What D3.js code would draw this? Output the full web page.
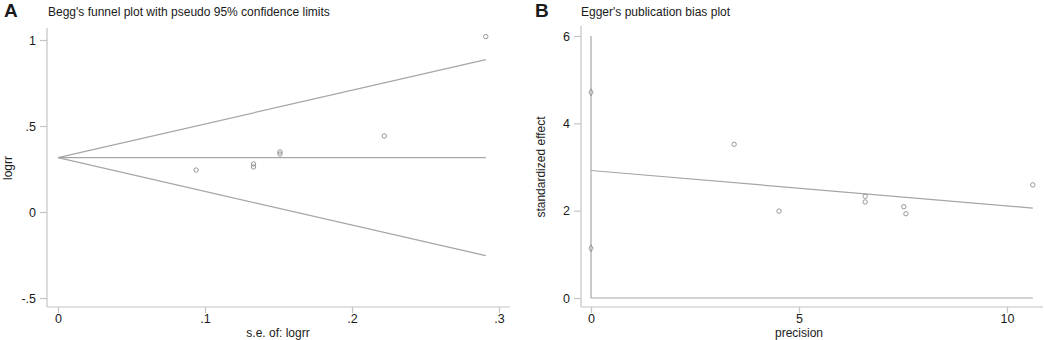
<!DOCTYPE html>
<html>
<head>
<meta charset="utf-8">
<script src="https://cdn.jsdelivr.net/npm/d3@7"></script>
<style>
  body { margin: 0; background: #fff; }
  svg { display: block; font-family: Arial, "Liberation Sans", sans-serif; }
</style>
</head>
<body>
<div id="vis"></div>
<script>
// Panel A: Begg's funnel
const funnelSe = [0.094, 0.133, 0.133, 0.151, 0.151, 0.222, 0.291];
const funnelLogrr = [0.244, 0.279, 0.262, 0.349, 0.337, 0.442, 1.02];
const funnelPooled = 0.316;
const funnelSeMax = 0.291;
const funnelUpper = 0.886;
const funnelLower = -0.254;
const funnelXTicks = [0, 0.1, 0.2, 0.3];
const funnelYTicks = [-0.5, 0, 0.5, 1];

// Panel B: Egger's plot
const eggerPrecision = [3.44, 4.52, 6.59, 6.59, 7.52, 7.57, 10.62];
const eggerEffect = [3.52, 1.99, 2.33, 2.20, 2.09, 1.93, 2.59];
const eggerFit = [[0, 2.92], [10.62, 2.06]];
const eggerCi = [4.71, 1.14];
const eggerXTicks = [0, 5, 10];
const eggerYTicks = [0, 2, 4, 6];

const WIDTH = 1045, HEIGHT = 340;
const AXIS = "#c4c4c4", LINE = "#a6a6a6", DOT = "#8c8c8c", TEXT = "#1a1a1a";

const svg = d3.select("#vis").append("svg")
    .attr("width", WIDTH).attr("height", HEIGHT);

const fmt = d => d === 0 ? "0" : String(d).replace(/^(-?)0\./, "$1.");

function axes(g, x, y, xt, yt, box) {
    // axis lines (stata style, a little off the plot region)
    g.append("line").attr("x1", box.left).attr("x2", box.left)
        .attr("y1", box.top).attr("y2", box.bottom)
        .attr("stroke", AXIS).attr("stroke-width", 1.2);
    g.append("line").attr("x1", box.left).attr("x2", box.right)
        .attr("y1", box.bottom).attr("y2", box.bottom)
        .attr("stroke", AXIS).attr("stroke-width", 1.2);

    const ya = g.append("g").attr("transform", `translate(${box.left},0)`)
        .call(d3.axisLeft(y).tickValues(yt).tickSize(7).tickPadding(4).tickFormat(fmt));
    const xa = g.append("g").attr("transform", `translate(0,${box.bottom})`)
        .call(d3.axisBottom(x).tickValues(xt).tickSize(6).tickPadding(1).tickFormat(fmt));
    [ya, xa].forEach(a => {
        a.select(".domain").remove();
        a.selectAll(".tick line").attr("stroke", AXIS).attr("stroke-width", 1.2);
        a.selectAll(".tick text").attr("fill", TEXT).attr("font-size", 12.5);
    });
}

// ---------- A ----------
const xA = d3.scaleLinear().domain([0, 0.3]).range([58, 499]);
const yA = d3.scaleLinear().domain([-0.5, 1]).range([298, 40]);
const gA = svg.append("g");

axes(gA, xA, yA, funnelXTicks, funnelYTicks, {left: 47, right: 510, top: 28, bottom: 307});

gA.append("text").text("A").attr("x", 4).attr("y", 17)
    .attr("font-size", 19).attr("font-weight", "bold").attr("fill", TEXT);
gA.append("text").text("Begg's funnel plot with pseudo 95% confidence limits")
    .attr("x", 48).attr("y", 16).attr("font-size", 12).attr("fill", TEXT);
gA.append("text").text("logrr")
    .attr("transform", "rotate(-90)").attr("x", -168).attr("y", 12)
    .attr("text-anchor", "middle").attr("font-size", 12).attr("fill", TEXT);
gA.append("text").text("s.e. of: logrr")
    .attr("x", 278).attr("y", 337).attr("text-anchor", "middle")
    .attr("font-size", 12).attr("fill", TEXT);

const funnelLines = [
    [[0, funnelPooled], [funnelSeMax, funnelUpper]],
    [[0, funnelPooled], [funnelSeMax, funnelPooled]],
    [[0, funnelPooled], [funnelSeMax, funnelLower]]
];
const lineA = d3.line().x(d => xA(d[0])).y(d => yA(d[1]));
gA.selectAll("path.funnel").data(funnelLines).join("path")
    .attr("class", "funnel").attr("d", lineA)
    .attr("fill", "none").attr("stroke", LINE).attr("stroke-width", 1.2);

gA.selectAll("circle.pt").data(funnelSe).join("circle")
    .attr("class", "pt")
    .attr("cx", d => xA(d)).attr("cy", (d, i) => yA(funnelLogrr[i]))
    .attr("r", 2.2).attr("fill", "none").attr("stroke", DOT).attr("stroke-width", 0.9);

// ---------- B ----------
const xB = d3.scaleLinear().domain([0, 10]).range([591, 1007]);
const yB = d3.scaleLinear().domain([0, 6]).range([298, 36]);
const gB = svg.append("g");

axes(gB, xB, yB, eggerXTicks, eggerYTicks, {left: 581, right: 1043, top: 26, bottom: 307});

gB.append("text").text("B").attr("x", 535).attr("y", 17)
    .attr("font-size", 19).attr("font-weight", "bold").attr("fill", TEXT);
gB.append("text").text("Egger's publication bias plot")
    .attr("x", 581).attr("y", 16).attr("font-size", 12).attr("fill", TEXT);
gB.append("text").text("standardized effect")
    .attr("transform", "rotate(-90)").attr("x", -167).attr("y", 545)
    .attr("text-anchor", "middle").attr("font-size", 12).attr("fill", TEXT);
gB.append("text").text("precision")
    .attr("x", 799).attr("y", 337).attr("text-anchor", "middle")
    .attr("font-size", 12).attr("fill", TEXT);

const lineB = d3.line().x(d => xB(d[0])).y(d => yB(d[1]));
const xMaxB = eggerFit[1][0];
const refLines = [
    [[0, 0], [0, 6]],
    [[0, 0], [xMaxB, 0]],
    eggerFit
];
gB.selectAll("path.ref").data(refLines).join("path")
    .attr("class", "ref").attr("d", lineB)
    .attr("fill", "none").attr("stroke", LINE).attr("stroke-width", 1.2);

gB.selectAll("path.ci").data(eggerCi).join("path")
    .attr("class", "ci")
    .attr("d", d3.symbol(d3.symbolDiamond, 14))
    .attr("transform", d => `translate(${xB(0)},${yB(d)})`)
    .attr("fill", "none").attr("stroke", DOT).attr("stroke-width", 0.9);

gB.selectAll("circle.pt").data(eggerPrecision).join("circle")
    .attr("class", "pt")
    .attr("cx", d => xB(d)).attr("cy", (d, i) => yB(eggerEffect[i]))
    .attr("r", 2.2).attr("fill", "none").attr("stroke", DOT).attr("stroke-width", 0.9);
</script>
</body>
</html>
